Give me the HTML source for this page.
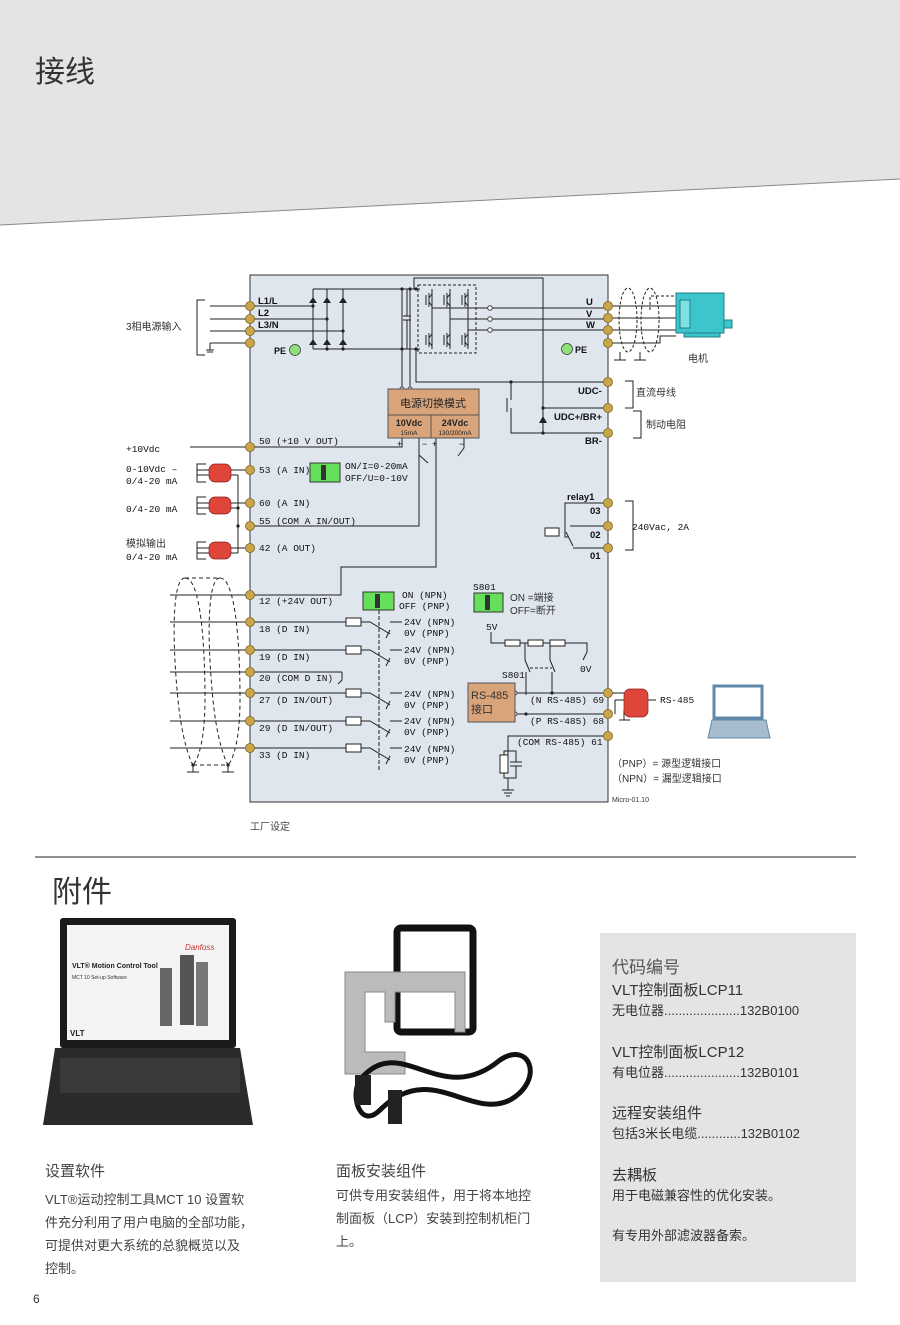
<!DOCTYPE html>
<html><head><meta charset="utf-8"><style>
html,body{margin:0;padding:0;background:#fff;}
body{width:900px;height:1320px;overflow:hidden;position:relative;font-family:"Liberation Sans","Noto Sans CJK SC",sans-serif;}
svg text{font-family:"Liberation Sans","Noto Sans CJK SC",sans-serif;}
.t{font-size:9.5px;fill:#111;}
.m{font-family:"Liberation Mono","Noto Sans CJK SC",monospace !important;font-size:9.5px;fill:#111;}
</style></head><body>
<svg width="900" height="1320" viewBox="0 0 900 1320" xmlns="http://www.w3.org/2000/svg">
<!-- header -->
<polygon points="0,0 900,0 900,179 0,225" fill="#e4e4e4"/>
<line x1="0" y1="225" x2="900" y2="179" stroke="#888" stroke-width="1"/>
<text x="35" y="82" font-size="30" fill="#333">接线</text>

<g stroke="#222" stroke-width="1" fill="none">
<!-- main box -->
<rect x="250" y="275" width="358" height="527" fill="#dfe6ee" stroke="#333"/>
<!-- mains input -->
<polyline points="205,300 197,300 197,355 205,355"/>
<line x1="210" y1="306" x2="313" y2="306"/>
<line x1="210" y1="319" x2="327" y2="319"/>
<line x1="210" y1="331" x2="343" y2="331"/>
<line x1="210" y1="343" x2="250" y2="343"/>
<line x1="210" y1="343" x2="210" y2="350"/>
<line x1="206" y1="350" x2="214" y2="350"/><line x1="207" y1="352" x2="213" y2="352"/>
<!-- rectifier -->
<line x1="313" y1="289" x2="313" y2="349"/><line x1="327" y1="289" x2="327" y2="349"/><line x1="343" y1="289" x2="343" y2="349"/>
<line x1="313" y1="289" x2="420" y2="289"/><line x1="313" y1="349" x2="420" y2="349"/>
<!-- cap -->
<line x1="407" y1="289" x2="407" y2="316"/><line x1="407" y1="320" x2="407" y2="349"/>
<line x1="403" y1="316" x2="411" y2="316"/><line x1="403" y1="320" x2="411" y2="320"/>
<!-- inverter -->
<rect x="418" y="285" width="58" height="68" stroke-dasharray="3,2"/>
<line x1="432" y1="289" x2="432" y2="349"/><line x1="450" y1="289" x2="450" y2="349"/><line x1="468" y1="289" x2="468" y2="349"/>
<line x1="432" y1="308" x2="489" y2="308"/><line x1="450" y1="319" x2="489" y2="319"/><line x1="468" y1="330" x2="489" y2="330"/>
<line x1="492" y1="308" x2="608" y2="308"/><line x1="492" y1="319" x2="608" y2="319"/><line x1="492" y1="330" x2="608" y2="330"/>
<!-- top line to UDC+ -->
<polyline points="414,289 414,278 543,278 543,408 608,408"/>
<polyline points="416,349 416,382 608,382"/>
<polyline points="511,382 511,400"/>
<line x1="507" y1="398" x2="507" y2="412"/>
<polyline points="511,408 511,433 608,433"/>
<line x1="543" y1="408" x2="543" y2="433"/>
<!-- power box links -->
<line x1="402" y1="289" x2="402" y2="389"/><line x1="410" y1="289" x2="410" y2="389"/>
<!-- motor wiring -->
<line x1="608" y1="306" x2="676" y2="306"/>
<line x1="608" y1="318" x2="676" y2="318"/>
<line x1="608" y1="330" x2="676" y2="330"/>
<polyline points="608,343 660,343 660,336 676,336"/>
<polyline points="650,310 650,296 705,296 705,304" stroke-dasharray="3,2"/>
<ellipse cx="628" cy="320" rx="9" ry="32" stroke-dasharray="3,2"/>
<ellipse cx="650" cy="320" rx="9" ry="32" stroke-dasharray="3,2"/>
<line x1="620" y1="352" x2="620" y2="360"/><line x1="640" y1="352" x2="640" y2="360"/>
<line x1="614" y1="360" x2="626" y2="360"/><line x1="634" y1="360" x2="646" y2="360"/>
<!-- DC bus brackets -->
<polyline points="625,381 633,381 633,408 625,408"/>
<polyline points="633,411 641,411 641,438 633,438"/>
<!-- +10Vdc line and 50 -->
<line x1="190" y1="447" x2="250" y2="447"/>
<polyline points="250,447 402,447 402,438"/>
<polyline points="419,438 419,526 250,526"/>
<polyline points="436,438 436,567 341,567 341,595 250,595"/>
<line x1="464" y1="438" x2="464" y2="448"/><line x1="464" y1="448" x2="458" y2="456"/>
<line x1="419" y1="455" x2="428" y2="463"/>
<!-- analog -->
<line x1="231" y1="470" x2="250" y2="470"/>
<line x1="231" y1="503" x2="250" y2="503"/>
<line x1="231" y1="548" x2="250" y2="548"/>
<line x1="238" y1="475" x2="238" y2="553"/>
<line x1="231" y1="475" x2="238" y2="475"/><line x1="231" y1="508" x2="238" y2="508"/><line x1="231" y1="553" x2="238" y2="553"/>
<polyline points="206,464 197,464 197,482 206,482"/>
<polyline points="206,497 197,497 197,514 206,514"/>
<polyline points="206,542 197,542 197,559 206,559"/>
<line x1="197" y1="470" x2="209" y2="470"/><line x1="197" y1="475" x2="209" y2="475"/>
<line x1="197" y1="503" x2="209" y2="503"/><line x1="197" y1="508" x2="209" y2="508"/>
<line x1="197" y1="548" x2="209" y2="548"/><line x1="197" y1="553" x2="209" y2="553"/>
<!-- relay -->
<polyline points="608,503 565,503 565,537 568,537"/>
<line x1="570" y1="526" x2="608" y2="526"/>
<line x1="566" y1="532" x2="573" y2="546"/>
<polyline points="573,548 608,548"/>
<rect x="545" y="528" width="14" height="8" fill="#fff"/>
<polyline points="625,501 633,501 633,550 625,550"/>
<!-- digital inputs -->
<line x1="170" y1="595" x2="250" y2="595"/>
<line x1="170" y1="622" x2="346" y2="622"/>
<line x1="170" y1="650" x2="346" y2="650"/>
<line x1="170" y1="672" x2="342" y2="672"/>
<polyline points="342,672 342,680 338,684"/>
<line x1="170" y1="693" x2="346" y2="693"/>
<line x1="170" y1="721" x2="346" y2="721"/>
<line x1="170" y1="748" x2="346" y2="748"/>
<g fill="#fff">
<rect x="346" y="618" width="15" height="8"/><rect x="346" y="646" width="15" height="8"/>
<rect x="346" y="689" width="15" height="8"/><rect x="346" y="717" width="15" height="8"/><rect x="346" y="744" width="15" height="8"/>
</g>
<polyline points="361,622 370,622 390,634"/><line x1="390" y1="630" x2="386" y2="638"/><line x1="390" y1="622" x2="402" y2="622"/>
<polyline points="361,650 370,650 390,662"/><line x1="390" y1="658" x2="386" y2="666"/><line x1="390" y1="650" x2="402" y2="650"/>
<polyline points="361,693 370,693 390,705"/><line x1="390" y1="701" x2="386" y2="709"/><line x1="390" y1="693" x2="402" y2="693"/>
<polyline points="361,721 370,721 390,733"/><line x1="390" y1="729" x2="386" y2="737"/><line x1="390" y1="721" x2="402" y2="721"/>
<polyline points="361,748 370,748 390,760"/><line x1="390" y1="756" x2="386" y2="764"/><line x1="390" y1="748" x2="402" y2="748"/>
<line x1="379" y1="610" x2="379" y2="770" stroke-dasharray="4,2"/>
<!-- shields left -->
<path d="M185,578 C172,578 172,640 178,700 C182,740 190,760 193,765" stroke-dasharray="4,3"/>
<path d="M185,578 C200,578 205,640 205,700 C205,740 198,760 193,765" stroke-dasharray="4,3"/>
<path d="M220,578 C207,578 207,640 213,700 C217,740 225,760 228,765" stroke-dasharray="4,3"/>
<path d="M220,578 C235,578 240,640 240,700 C240,740 233,760 228,765" stroke-dasharray="4,3"/>
<line x1="185" y1="578" x2="220" y2="578" stroke-dasharray="4,3"/>
<line x1="193" y1="765" x2="228" y2="765" stroke-dasharray="4,3"/>
<line x1="193" y1="765" x2="193" y2="772"/><line x1="228" y1="765" x2="228" y2="772"/>
<line x1="187" y1="772" x2="199" y2="772"/><line x1="222" y1="772" x2="234" y2="772"/>
<!-- S801 / RS485 -->
<polyline points="491,632 491,643 505,643"/>
<rect x="505" y="640" width="15" height="6" fill="#fff"/><rect x="528" y="640" width="15" height="6" fill="#fff"/><rect x="550" y="640" width="15" height="6" fill="#fff"/>
<line x1="520" y1="643" x2="528" y2="643"/><line x1="543" y1="643" x2="550" y2="643"/>
<polyline points="565,643 587,643 587,652 583,660"/>
<polyline points="525,643 525,660 530,672"/><line x1="526" y1="672" x2="526" y2="695"/>
<polyline points="550,643 550,660 555,672"/><line x1="552" y1="672" x2="552" y2="693"/>
<line x1="530" y1="668" x2="552" y2="668" stroke-dasharray="3,2"/>
<line x1="515" y1="693" x2="608" y2="693"/>
<polyline points="515,714 608,714"/>
<polyline points="608,736 508,736 508,755"/>
<rect x="500" y="755" width="8" height="18" fill="#fff"/>
<line x1="510" y1="762" x2="522" y2="762"/><line x1="510" y1="766" x2="522" y2="766"/>
<polyline points="504,755 504,751 516,751 516,762"/><polyline points="504,773 504,778 516,778 516,766"/>
<line x1="508" y1="778" x2="508" y2="790"/>
<line x1="502" y1="790" x2="514" y2="790"/><line x1="504" y1="793" x2="512" y2="793"/><line x1="506" y1="796" x2="510" y2="796"/>
<!-- RS485 external -->
<line x1="608" y1="693" x2="624" y2="693"/>
<line x1="615" y1="714" x2="615" y2="700"/><line x1="615" y1="700" x2="624" y2="700"/>
<line x1="648" y1="700" x2="656" y2="700"/>
<line x1="624" y1="710" x2="624" y2="720"/><line x1="619" y1="720" x2="630" y2="720"/>
</g>

<!-- diode triangles -->
<g fill="#222">
<polygon points="309,303 317,303 313,297"/><polygon points="323,303 331,303 327,297"/><polygon points="339,303 347,303 343,297"/>
<polygon points="309,345 317,345 313,339"/><polygon points="323,345 331,345 327,339"/><polygon points="339,345 347,345 343,339"/>
<polygon points="539,423 547,423 543,416"/>
<circle cx="313" cy="306" r="1.6"/><circle cx="327" cy="319" r="1.6"/><circle cx="343" cy="331" r="1.6"/>
<circle cx="327" cy="349" r="1.6"/><circle cx="343" cy="349" r="1.6"/>
<circle cx="402" cy="289" r="1.6"/><circle cx="410" cy="289" r="1.6"/><circle cx="416" cy="289" r="1.6"/>
<circle cx="402" cy="349" r="1.6"/><circle cx="416" cy="349" r="1.6"/>
<circle cx="511" cy="382" r="1.6"/><circle cx="543" cy="408" r="1.6"/><circle cx="543" cy="433" r="1.6"/>
<circle cx="238" cy="508" r="1.6"/><circle cx="238" cy="526" r="1.6"/>
<circle cx="526" cy="714" r="1.6"/><circle cx="552" cy="693" r="1.6"/>
<circle cx="193" cy="765" r="1.6"/><circle cx="228" cy="765" r="1.6"/>
</g>
<!-- IGBT symbols -->
<g stroke="#222" stroke-width="1" fill="none">
<path d="M426,295 v10 M429,293 v14 M429,298 l3,-4 M429,302 l3,4"/>
<path d="M444,295 v10 M447,293 v14 M447,298 l3,-4 M447,302 l3,4"/>
<path d="M462,295 v10 M465,293 v14 M465,298 l3,-4 M465,302 l3,4"/>
<path d="M426,335 v10 M429,333 v14 M429,338 l3,-4 M429,342 l3,4"/>
<path d="M444,335 v10 M447,333 v14 M447,338 l3,-4 M447,342 l3,4"/>
<path d="M462,335 v10 M465,333 v14 M465,338 l3,-4 M465,342 l3,4"/>
</g>
<g fill="#fff" stroke="#444">
<circle cx="490" cy="308" r="2.3"/><circle cx="490" cy="319" r="2.3"/><circle cx="490" cy="330" r="2.3"/>
<circle cx="402" cy="389" r="2" /><circle cx="410" cy="389" r="2"/>
<circle cx="515" cy="693" r="2"/><circle cx="515" cy="714" r="2"/>
</g>

<!-- power supply box -->
<rect x="388" y="389" width="91" height="49" fill="#d9a47a" stroke="#555"/>
<line x1="388" y1="415" x2="479" y2="415" stroke="#555"/>
<line x1="431" y1="415" x2="431" y2="438" stroke="#555"/>
<text x="433" y="407" font-size="11" fill="#222" text-anchor="middle">电源切换模式</text>
<text x="409" y="426" font-size="9" font-weight="bold" fill="#222" text-anchor="middle">10Vdc</text>
<text x="455" y="426" font-size="9" font-weight="bold" fill="#222" text-anchor="middle">24Vdc</text>
<text x="409" y="435" font-size="6.5" fill="#222" text-anchor="middle">15mA</text>
<text x="455" y="435" font-size="6.5" fill="#222" text-anchor="middle">130/200mA</text>
<text x="397" y="447" font-size="9" fill="#111">+</text><text x="422" y="447" font-size="9" fill="#111">−</text>
<text x="432" y="447" font-size="9" fill="#111">+</text><text x="459" y="447" font-size="9" fill="#111">−</text>

<!-- RS485 box -->
<rect x="468" y="683" width="47" height="39" fill="#d9a47a" stroke="#555"/>
<text x="471" y="699" font-size="11" fill="#333">RS-485</text>
<text x="471" y="713" font-size="11" fill="#333">接口</text>

<!-- green switches -->
<g>
<rect x="310" y="463" width="30" height="19" fill="#66e05a" stroke="#333"/><rect x="321" y="465" width="5" height="15" fill="#333"/>
<rect x="363" y="592" width="31" height="18" fill="#66e05a" stroke="#333"/><rect x="375" y="594" width="5" height="14" fill="#333"/>
<rect x="474" y="593" width="29" height="19" fill="#66e05a" stroke="#333"/><rect x="485" y="595" width="5" height="15" fill="#333"/>
</g>

<!-- red connectors -->
<g fill="#e0453a" stroke="#8a2020" stroke-width="0.7">
<rect x="209" y="464" width="22" height="18" rx="6"/>
<rect x="209" y="497" width="22" height="17" rx="6"/>
<rect x="209" y="542" width="22" height="17" rx="6"/>
<rect x="624" y="689" width="24" height="28" rx="6"/>
</g>

<!-- terminals -->
<g fill="#caa64a" stroke="#7d6320" stroke-width="0.8">
<circle cx="250" cy="306" r="4.5"/><circle cx="250" cy="319" r="4.5"/><circle cx="250" cy="331" r="4.5"/><circle cx="250" cy="343" r="4.5"/>
<circle cx="250" cy="447" r="4.5"/><circle cx="250" cy="470" r="4.5"/><circle cx="250" cy="503" r="4.5"/><circle cx="250" cy="526" r="4.5"/><circle cx="250" cy="548" r="4.5"/>
<circle cx="250" cy="595" r="4.5"/><circle cx="250" cy="622" r="4.5"/><circle cx="250" cy="650" r="4.5"/><circle cx="250" cy="672" r="4.5"/><circle cx="250" cy="693" r="4.5"/><circle cx="250" cy="721" r="4.5"/><circle cx="250" cy="748" r="4.5"/>
<circle cx="608" cy="306" r="4.5"/><circle cx="608" cy="318" r="4.5"/><circle cx="608" cy="330" r="4.5"/><circle cx="608" cy="343" r="4.5"/>
<circle cx="608" cy="382" r="4.5"/><circle cx="608" cy="408" r="4.5"/><circle cx="608" cy="433" r="4.5"/>
<circle cx="608" cy="503" r="4.5"/><circle cx="608" cy="526" r="4.5"/><circle cx="608" cy="548" r="4.5"/>
<circle cx="608" cy="693" r="4.5"/><circle cx="608" cy="714" r="4.5"/><circle cx="608" cy="736" r="4.5"/>
</g>

<!-- PE grounds -->
<circle cx="295" cy="350" r="5.5" fill="#8fe07a" stroke="#333" stroke-width="0.7"/>
<circle cx="567" cy="349" r="5.5" fill="#8fe07a" stroke="#333" stroke-width="0.7"/>
<text x="274" y="354" font-size="9" font-weight="bold" fill="#111">PE</text>
<text x="575" y="353" font-size="9" font-weight="bold" fill="#111">PE</text>

<!-- motor -->
<rect x="676" y="293" width="48" height="40" fill="#3cc6cc" stroke="#207f85"/>
<rect x="680" y="300" width="10" height="28" fill="#7de0e4" stroke="#207f85"/>
<rect x="724" y="320" width="8" height="8" fill="#3cc6cc" stroke="#207f85"/>
<rect x="684" y="333" width="36" height="4" fill="#3cc6cc" stroke="#207f85"/>
<text x="688" y="362" font-size="10" fill="#333">电机</text>

<!-- laptop -->
<rect x="714" y="686" width="48" height="32" fill="#fff" stroke="#5f88a8" stroke-width="3"/>
<polygon points="712,720 766,720 770,738 708,738" fill="#a6bccd" stroke="#5f88a8"/>

<!-- text labels -->
<text x="126" y="330" font-size="10" fill="#333">3相电源输入</text>
<g class="t" font-weight="bold">
<text x="258" y="304" class="t">L1/L</text><text x="258" y="316" class="t">L2</text><text x="258" y="328" class="t">L3/N</text>
<text x="586" y="305" class="t">U</text><text x="586" y="317" class="t">V</text><text x="586" y="328" class="t">W</text>
<text x="578" y="394" class="t">UDC-</text><text x="554" y="420" class="t">UDC+/BR+</text><text x="585" y="444" class="t">BR-</text>
<text x="567" y="500" class="t" font-size="9">relay1</text>
<text x="590" y="514" class="t">03</text><text x="590" y="538" class="t">02</text><text x="590" y="559" class="t">01</text>
</g>
<text x="636" y="396" font-size="10" fill="#333">直流母线</text>
<text x="646" y="428" font-size="10" fill="#333">制动电阻</text>
<text x="632" y="530" class="m">240Vac, 2A</text>
<text x="126" y="452" class="m">+10Vdc</text>
<text x="126" y="472" class="m">0-10Vdc –</text><text x="126" y="484" class="m">0/4-20 mA</text>
<text x="126" y="512" class="m">0/4-20 mA</text>
<text x="126" y="547" font-size="10" fill="#333">模拟输出</text><text x="126" y="560" class="m">0/4-20 mA</text>

<g class="m">
<text x="259" y="444" class="m">50 (+10 V OUT)</text>
<text x="259" y="473" class="m">53 (A IN)</text>
<text x="259" y="506" class="m">60 (A IN)</text>
<text x="259" y="524" class="m">55 (COM A IN/OUT)</text>
<text x="259" y="551" class="m">42 (A OUT)</text>
<text x="259" y="604" class="m">12 (+24V OUT)</text>
<text x="259" y="632" class="m">18 (D IN)</text>
<text x="259" y="660" class="m">19 (D IN)</text>
<text x="259" y="681" class="m">20 (COM D IN)</text>
<text x="259" y="703" class="m">27 (D IN/OUT)</text>
<text x="259" y="731" class="m">29 (D IN/OUT)</text>
<text x="259" y="758" class="m">33 (D IN)</text>
<text x="345" y="469" class="m">ON/I=0-20mA</text>
<text x="345" y="481" class="m">OFF/U=0-10V</text>
<text x="402" y="598" class="m">ON (NPN)</text><text x="399" y="609" class="m">OFF (PNP)</text>
<text x="404" y="625" class="m">24V (NPN)</text><text x="404" y="636" class="m">0V (PNP)</text>
<text x="404" y="653" class="m">24V (NPN)</text><text x="404" y="664" class="m">0V (PNP)</text>
<text x="404" y="697" class="m">24V (NPN)</text><text x="404" y="708" class="m">0V (PNP)</text>
<text x="404" y="724" class="m">24V (NPN)</text><text x="404" y="735" class="m">0V (PNP)</text>
<text x="404" y="752" class="m">24V (NPN)</text><text x="404" y="763" class="m">0V (PNP)</text>
<text x="473" y="590" class="m">S801</text>
<text x="486" y="630" class="m">5V</text>
<text x="580" y="672" class="m">0V</text>
<text x="502" y="678" class="m">S801</text>
<text x="530" y="703" class="m">(N RS-485) 69</text>
<text x="530" y="724" class="m">(P RS-485) 68</text>
<text x="517" y="745" class="m">(COM RS-485) 61</text>
<text x="660" y="703" class="m">RS-485</text>
</g>
<text x="510" y="601" font-size="10" fill="#333">ON =端接</text>
<text x="510" y="614" font-size="10" fill="#333">OFF=断开</text>
<text x="612" y="767" font-size="10" fill="#333">（PNP）= 源型逻辑接口</text>
<text x="612" y="782" font-size="10" fill="#333">（NPN）= 漏型逻辑接口</text>
<text x="612" y="802" font-size="7" fill="#333">Micro-01.10</text>
<text x="250" y="830" font-size="10" fill="#444">工厂设定</text>

<!-- separator -->
<line x1="35" y1="857" x2="856" y2="857" stroke="#222" stroke-width="1"/>
<text x="52" y="902" font-size="30" fill="#333">附件</text>

<!-- laptop photo -->
<rect x="60" y="918" width="176" height="130" fill="#1a1a1a" rx="3"/>
<rect x="67" y="925" width="162" height="115" fill="#f4f4f4"/>
<text x="72" y="968" font-size="7" font-weight="bold" fill="#222">VLT® Motion Control Tool</text>
<text x="72" y="979" font-size="5" fill="#333">MCT 10 Set-up Software</text>
<text x="185" y="950" font-size="8" font-style="italic" fill="#c33">Danfoss</text>
<rect x="180" y="955" width="14" height="70" fill="#555"/><rect x="196" y="962" width="12" height="64" fill="#777"/><rect x="160" y="968" width="12" height="58" fill="#666"/>
<text x="70" y="1036" font-size="8" font-weight="bold" fill="#222">VLT</text>
<polygon points="55,1048 240,1048 253,1125 43,1125" fill="#2a2a2a"/>
<rect x="60" y="1058" width="180" height="35" fill="#3a3a3a"/>

<!-- panel kit photo -->
<rect x="397" y="928" width="76" height="104" fill="none" stroke="#111" stroke-width="7" rx="4"/>
<path d="M345,972 h120 v60 h-10 v-40 h-60 v30 h-10 v-30 h-20 v60 h40 v22 h-60 z" fill="#bbb" stroke="#888"/>
<path d="M360,1080 C400,1030 440,1110 500,1060 C530,1040 545,1080 510,1100 C470,1120 430,1060 380,1110 C360,1130 350,1095 360,1080 Z" fill="none" stroke="#111" stroke-width="5"/>
<rect x="355" y="1075" width="16" height="30" fill="#222"/>
<rect x="388" y="1090" width="14" height="34" fill="#222"/>

<!-- captions -->
<text x="45" y="1176" font-size="15" fill="#444">设置软件</text>
<text x="45" y="1204" font-size="13" fill="#444">VLT®运动控制工具MCT 10 设置软</text>
<text x="45" y="1227" font-size="13" fill="#444">件充分利用了用户电脑的全部功能，</text>
<text x="45" y="1250" font-size="13" fill="#444">可提供对更大系统的总貌概览以及</text>
<text x="45" y="1273" font-size="13" fill="#444">控制。</text>
<text x="336" y="1176" font-size="15" fill="#444">面板安装组件</text>
<text x="336" y="1200" font-size="13" fill="#444">可供专用安装组件，用于将本地控</text>
<text x="336" y="1223" font-size="13" fill="#444">制面板（LCP）安装到控制机柜门</text>
<text x="336" y="1246" font-size="13" fill="#444">上。</text>

<!-- code box -->
<rect x="600" y="933" width="256" height="349" fill="#e4e4e4"/>
<g fill="#333">
<text x="612" y="973" font-size="17" fill="#555">代码编号</text>
<text x="612" y="995" font-size="15">VLT控制面板LCP11</text>
<text x="612" y="1015" font-size="13">无电位器.....................132B0100</text>
<text x="612" y="1057" font-size="15">VLT控制面板LCP12</text>
<text x="612" y="1077" font-size="13">有电位器.....................132B0101</text>
<text x="612" y="1118" font-size="15">远程安装组件</text>
<text x="612" y="1138" font-size="13">包括3米长电缆............132B0102</text>
<text x="612" y="1180" font-size="15">去耦板</text>
<text x="612" y="1200" font-size="13">用于电磁兼容性的优化安装。</text>
<text x="612" y="1240" font-size="13">有专用外部滤波器备索。</text>
</g>
<text x="33" y="1303" font-size="12" fill="#333">6</text>
</svg>
</body></html>
